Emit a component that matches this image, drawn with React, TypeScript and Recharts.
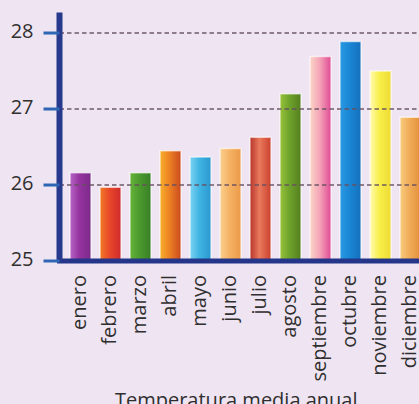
import React from 'react';
import { BarChart, Bar, XAxis, YAxis, Cell, ReferenceLine } from 'recharts';

const months = [
  'enero', 'febrero', 'marzo', 'abril', 'mayo', 'junio',
  'julio', 'agosto', 'septiembre', 'octubre', 'noviembre', 'diciembre',
];
const temperatures = [26.16, 25.97, 26.16, 26.45, 26.37, 26.48, 26.63, 27.2, 27.69, 27.89, 27.5, 26.89];
const yTicks = [25, 26, 27, 28];
const gridValues = [26, 27, 28];
const title = 'Temperatura media anual';

// left / middle / right colour of each bar's shading
const barShades = [
  ['#b865c6', '#95339f', '#7b2a8a'],
  ['#f27a24', '#e8482a', '#cf2a2c'],
  ['#66b33a', '#4c9a2e', '#387f25'],
  ['#f7b02c', '#ec8124', '#c9491d'],
  ['#7dd3f2', '#3fb4e3', '#2a98cf'],
  ['#fbd08f', '#f5b264', '#ec9a48'],
  ['#b8352b', '#e8795c', '#cc412f'],
  ['#98c23a', '#6ea22b', '#557f20'],
  ['#fbd5c6', '#f4a6b8', '#e04a95'],
  ['#2a9ae2', '#1a86d4', '#1470bd'],
  ['#fffbb0', '#f8ef4a', '#eedb32'],
  ['#f8cc7e', '#f0ac58', '#e48e38'],
];

const data = months.map((month, i) => ({ month, temp: temperatures[i] }));

const font = "'Open Sans', sans-serif";
const textColor = '#2f2f2f';

function MonthTick(props: any) {
  const { x, y, payload } = props;
  return (
    <text
      x={x}
      y={y}
      dy="0.3em"
      transform={`rotate(-90, ${x}, ${y})`}
      textAnchor="end"
      fontSize={20}
      fontFamily={font}
      fill={textColor}
    >
      {payload.value}
    </text>
  );
}

export default function App() {
  return (
    <div
      style={{
        position: 'absolute',
        left: 0,
        top: 0,
        width: 419,
        height: 404,
        overflow: 'hidden',
        background: '#efe4f1',
      }}
    >
      <BarChart
        width={425}
        height={420}
        data={data}
        margin={{ top: 12.5, right: 0, left: 0, bottom: 0 }}
      >
        <defs>
          {barShades.map((s, i) => (
            <linearGradient key={i} id={`shade${i}`} x1="0" y1="0" x2="1" y2="0">
              <stop offset="0%" stopColor={s[0]} />
              <stop offset="45%" stopColor={s[1]} />
              <stop offset="100%" stopColor={s[2]} />
            </linearGradient>
          ))}
        </defs>
        <XAxis
          dataKey="month"
          height={159}
          interval={0}
          padding={{ left: 5.5, right: 0 }}
          tickLine={false}
          tickMargin={8}
          tick={<MonthTick />}
          axisLine={{ stroke: '#25368a', strokeWidth: 5, strokeLinecap: 'square' }}
          label={{
            value: title,
            position: 'insideBottom',
            offset: 13,
            dx: -6,
            fontSize: 20,
            fontFamily: font,
            fill: textColor,
          }}
        />
        <YAxis
          width={59.5}
          domain={[25, 28.27]}
          ticks={yTicks}
          allowDataOverflow
          tickSize={16}
          tickMargin={10}
          axisLine={{ stroke: '#26398d', strokeWidth: 6 }}
          tickLine={{ stroke: '#2f66b3', strokeWidth: 3 }}
          tick={{ fill: textColor, fontSize: 20, fontFamily: font, dy: -2 }}
        />
        <Bar
          dataKey="temp"
          barSize={21}
          stroke="#ffffff"
          strokeOpacity={0.6}
          strokeWidth={1.5}
          isAnimationActive={false}
        >
          {data.map((d, i) => (
            <Cell key={d.month} fill={`url(#shade${i})`} />
          ))}
        </Bar>
        {gridValues.map((v) => (
          <ReferenceLine
            key={v}
            y={v}
            stroke="#665060"
            strokeOpacity={0.7}
            strokeWidth={2}
            strokeDasharray="4.5 3"
          />
        ))}
      </BarChart>
    </div>
  );
}
